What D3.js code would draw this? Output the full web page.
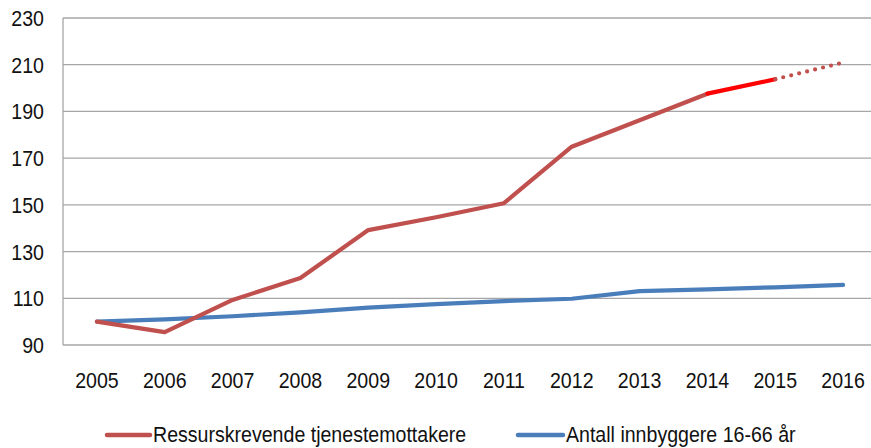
<!DOCTYPE html>
<html>
<head>
<meta charset="utf-8">
<script src="https://cdn.jsdelivr.net/npm/d3@7"></script>
<style>
html,body{margin:0;padding:0;background:#fff;overflow:hidden;}
text{font-family:"Liberation Sans",Arial,sans-serif;fill:#111;}
</style>
</head>
<body>
<svg id="chart" width="871" height="448"></svg>
<script>
const years = ["2005","2006","2007","2008","2009","2010","2011","2012","2013","2014","2015","2016"];
const ressurs = [100, 95.5, 109.3, 118.7, 139.2, 144.7, 150.7, 174.9, 186.2, 197.6, 203.8, 210.9];
const innbyggere = [100, 101.0, 102.3, 104.0, 106.0, 107.5, 108.8, 109.8, 113.1, 113.8, 114.7, 115.7];
const yTicks = [90, 110, 130, 150, 170, 190, 210, 230];
const seriesNames = ["Ressurskrevende tjenestemottakere", "Antall innbyggere 16-66 år"];

const svg = d3.select("#chart");
const m = {left: 63, top: 18, right: 877, bottom: 345};
const x = d3.scalePoint().domain(years).range([m.left, m.right]).padding(0.5);
const y = d3.scaleLinear().domain([90, 230]).range([m.bottom, m.top]);
const FS = 22, SX = 0.89;
const place = (px, py) => `translate(${px},${py}) scale(${SX},1)`;

// gridlines
svg.append("g").selectAll("line").data(yTicks.filter(t => t > 90)).join("line")
  .attr("x1", m.left).attr("x2", 871)
  .attr("y1", d => y(d)).attr("y2", d => y(d))
  .attr("stroke", "#a6a6a6").attr("stroke-width", 1.3);

// axes lines
svg.append("line").attr("x1", m.left).attr("x2", m.left).attr("y1", m.top).attr("y2", m.bottom)
  .attr("stroke", "#a6a6a6").attr("stroke-width", 1.3);
svg.append("line").attr("x1", m.left).attr("x2", 871).attr("y1", m.bottom).attr("y2", m.bottom)
  .attr("stroke", "#a6a6a6").attr("stroke-width", 1.3);

// y labels
svg.append("g").selectAll("text").data(yTicks).join("text")
  .attr("transform", d => place(44, y(d) + 8))
  .attr("text-anchor", "end").attr("font-size", FS)
  .text(d => d);

// x labels
svg.append("g").selectAll("text").data(years).join("text")
  .attr("transform", d => place(x(d), 388))
  .attr("text-anchor", "middle").attr("font-size", FS)
  .text(d => d);

const line = d3.line().x(d => x(d.year)).y(d => y(d.v));
const toPts = (arr) => arr.map((v, i) => ({year: years[i], v}));

// blue series
svg.append("path").datum(toPts(innbyggere))
  .attr("d", line).attr("fill", "none")
  .attr("stroke", "#4a7ebb").attr("stroke-width", 4.2)
  .attr("stroke-linecap", "round").attr("stroke-linejoin", "round");

// red series: solid to 2014, bright red 2014-2015, dotted 2015-2016
const rp = toPts(ressurs);
svg.append("path").datum(rp.slice(0, 10))
  .attr("d", line).attr("fill", "none")
  .attr("stroke", "#c0504d").attr("stroke-width", 4.2)
  .attr("stroke-linecap", "round").attr("stroke-linejoin", "round");
svg.append("path").datum(rp.slice(9, 11))
  .attr("d", line).attr("fill", "none")
  .attr("stroke", "#ff0000").attr("stroke-width", 4.2)
  .attr("stroke-linecap", "round");
svg.append("path").datum(rp.slice(10, 12))
  .attr("d", line).attr("fill", "none")
  .attr("stroke", "#c0504d").attr("stroke-width", 4.2)
  .attr("stroke-dasharray", "0 8.2").attr("stroke-dashoffset", -8.2)
  .attr("stroke-linecap", "round");

// legend
const legend = [
  {name: seriesNames[0], color: "#c0504d", x1: 107, x2: 150, tx: 153},
  {name: seriesNames[1], color: "#4a7ebb", x1: 518, x2: 563, tx: 566}
];
const lg = svg.append("g");
legend.forEach(l => {
  lg.append("line").attr("x1", l.x1).attr("x2", l.x2).attr("y1", 435).attr("y2", 435)
    .attr("stroke", l.color).attr("stroke-width", 4.5).attr("stroke-linecap", "round");
  lg.append("text").attr("transform", place(l.tx, 442)).attr("font-size", FS).text(l.name);
});
</script>
</body>
</html>
